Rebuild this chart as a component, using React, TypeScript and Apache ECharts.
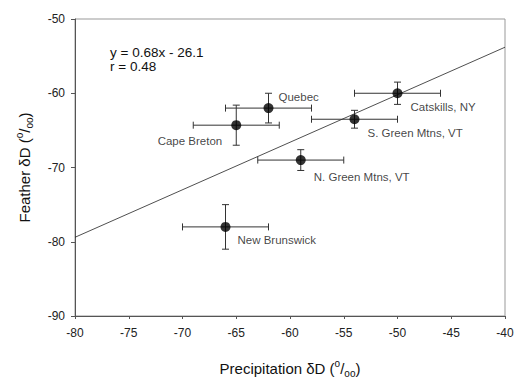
import React, { useEffect, useRef } from "react";
import * as echarts from "echarts";

const sites = ["Quebec", "Cape Breton", "Catskills, NY", "S. Green Mtns, VT", "N. Green Mtns, VT", "New Brunswick"];
const precip = [-62, -65, -50, -54, -59, -66];
const feather = [-62, -64.3, -60, -63.5, -69, -78];
const precipErr = [4, 4, 4, 4, 4, 4];
const featherErr = [2, 2.7, 1.5, 1.2, 1.4, 3];
const fitX = [-80, -40];
const fitY = [-79.4, -53.8];
const equationLines = ["y = 0.68x - 26.1", "r = 0.48"];

const FONT = "'Liberation Sans', Arial, sans-serif";

// label placement (style, not data)
const labelPlace: { position: string; distance: number; offset: [number, number] }[] = [
  { position: "right", distance: 5, offset: [0, -11] },
  { position: "left", distance: 9, offset: [0, 16] },
  { position: "right", distance: 8, offset: [0, 14] },
  { position: "right", distance: 8, offset: [0, 14] },
  { position: "right", distance: 8, offset: [0, 17] },
  { position: "right", distance: 7, offset: [0, 13] },
];

const titleRich = {
  n: { fontSize: 15, fontFamily: FONT, color: "#111", lineHeight: 20, verticalAlign: "middle" },
  sup: { fontSize: 10, fontFamily: FONT, color: "#111", lineHeight: 10, verticalAlign: "top" },
  sub: { fontSize: 10, fontFamily: FONT, color: "#111", lineHeight: 10, verticalAlign: "bottom" },
};

export default function App() {
  const ref = useRef<HTMLDivElement>(null);
  useEffect(() => {
    document.body.style.margin = "0";
    const chart = echarts.init(ref.current!, null, { renderer: "svg" });
    const cap = 3.5;
    chart.setOption({
      animation: false,
      backgroundColor: "#fff",
      grid: {
        left: 75,
        right: 9,
        top: 19,
        bottom: 61,
        show: true,
        borderColor: "#999",
        borderWidth: 1,
        containLabel: false,
        outerBoundsMode: "none",
      },
      xAxis: {
        type: "value",
        min: -80,
        max: -40,
        interval: 5,
        axisLine: { show: true, lineStyle: { color: "#555" } },
        axisTick: { show: true, length: 3, lineStyle: { color: "#555" } },
        axisLabel: { fontSize: 12, fontFamily: FONT, color: "#222", margin: 11 },
        splitLine: { show: false },
        name: "{n|Precipitation δD (}{sup|o}{n|/}{sub|oo}{n|)}",
        nameLocation: "middle",
        nameGap: 42,
        nameTextStyle: { rich: titleRich },
      },
      yAxis: {
        type: "value",
        min: -90,
        max: -50,
        interval: 10,
        axisLine: { show: true, lineStyle: { color: "#555" } },
        axisTick: { show: true, length: 4, lineStyle: { color: "#555" } },
        axisLabel: { fontSize: 12, fontFamily: FONT, color: "#222", margin: 10 },
        splitLine: { show: false },
        name: "{n|Feather δD (}{sup|o}{n|/}{sub|oo}{n|)}",
        nameLocation: "middle",
        nameRotate: 90,
        nameGap: 41,
        nameTextStyle: { rich: titleRich },
      },
      graphic: [
        {
          type: "text",
          left: 110,
          top: 45,
          style: {
            text: equationLines.join("\n"),
            font: `13.5px ${FONT}`,
            fill: "#111",
            lineHeight: 14,
          },
        },
      ],
      series: [
        {
          type: "line",
          data: fitX.map((x, i) => [x, fitY[i]]),
          showSymbol: false,
          symbol: "none",
          lineStyle: { color: "#222", width: 0.8 },
          z: 1,
        },
        {
          type: "custom",
          data: precip.map((x, i) => [x, feather[i], precipErr[i], featherErr[i]]),
          renderItem: (params: any, api: any) => {
            const x = api.value(0), y = api.value(1), ex = api.value(2), ey = api.value(3);
            const l = api.coord([x - ex, y]);
            const r = api.coord([x + ex, y]);
            const t = api.coord([x, y + ey]);
            const b = api.coord([x, y - ey]);
            const st = { stroke: "#333", lineWidth: 1 };
            const ln = (x1: number, y1: number, x2: number, y2: number) => ({
              type: "line",
              shape: { x1, y1, x2, y2 },
              style: st,
            });
            return {
              type: "group",
              children: [
                ln(l[0], l[1], r[0], r[1]),
                ln(l[0], l[1] - cap, l[0], l[1] + cap),
                ln(r[0], r[1] - cap, r[0], r[1] + cap),
                ln(t[0], t[1], b[0], b[1]),
                ln(t[0] - cap, t[1], t[0] + cap, t[1]),
                ln(b[0] - cap, b[1], b[0] + cap, b[1]),
              ],
            };
          },
          z: 2,
        },
        {
          type: "scatter",
          symbol: "circle",
          symbolSize: 10,
          itemStyle: { color: "#000" },
          data: sites.map((s, i) => ({
            name: s,
            value: [precip[i], feather[i]],
            label: {
              show: true,
              formatter: s,
              position: labelPlace[i].position,
              distance: labelPlace[i].distance,
              offset: labelPlace[i].offset,
              fontSize: 11.5,
              fontFamily: FONT,
              color: "#111",
              textBorderWidth: 0,
            },
          })),
          z: 3,
        },
      ],
    });
    return () => chart.dispose();
  }, []);
  return <div ref={ref} style={{ width: 514, height: 377 }} />;
}
